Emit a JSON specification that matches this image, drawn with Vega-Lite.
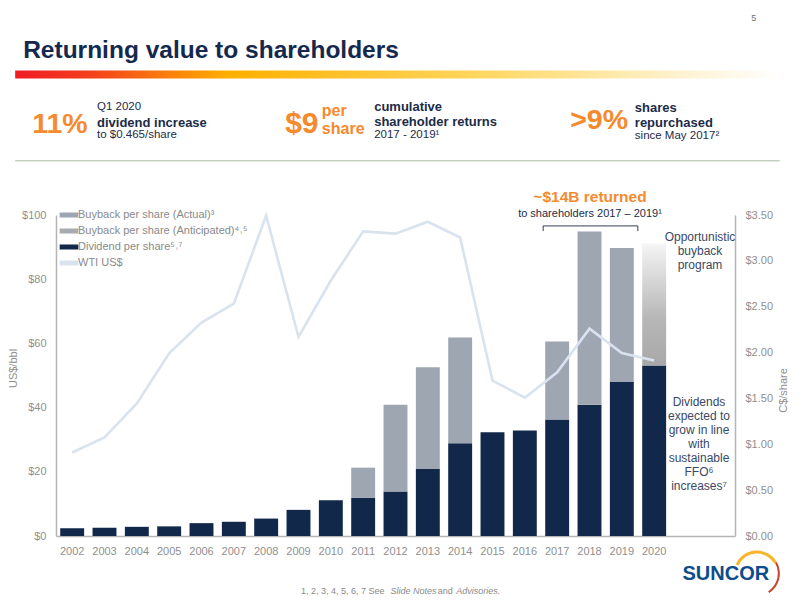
{"$schema":"https://vega.github.io/schema/vega-lite/v6.json","width":679,"height":321,"autosize":"none","padding":{"left":56,"top":215,"right":65,"bottom":64},"background":"white","config":{"font":"Liberation Sans","view":{"stroke":null}},"encoding":{"x":{"field":"year","type":"nominal","scale":{"domain":["2002","2003","2004","2005","2006","2007","2008","2009","2010","2011","2012","2013","2014","2015","2016","2017","2018","2019","2020"," ","  "],"paddingInner":0.26,"paddingOuter":0.13},"axis":{"title":null,"ticks":false,"labelAngle":0,"labelPadding":9,"labelFontSize":11,"labelColor":"#8f8f8f","domainColor":"#b5b5b5","domainWidth":1.5,"labelOverlap":false,"grid":false}}},"resolve":{"scale":{"y":"independent"}},"layer":[{"data":{"values":[{"year":"2002","series":"Dividend per share⁵˒⁷","value":0.085},{"year":"2003","series":"Dividend per share⁵˒⁷","value":0.09},{"year":"2004","series":"Dividend per share⁵˒⁷","value":0.1},{"year":"2005","series":"Dividend per share⁵˒⁷","value":0.105},{"year":"2006","series":"Dividend per share⁵˒⁷","value":0.14},{"year":"2007","series":"Dividend per share⁵˒⁷","value":0.155},{"year":"2008","series":"Dividend per share⁵˒⁷","value":0.19},{"year":"2009","series":"Dividend per share⁵˒⁷","value":0.285},{"year":"2010","series":"Dividend per share⁵˒⁷","value":0.39},{"year":"2011","series":"Dividend per share⁵˒⁷","value":0.415},{"year":"2012","series":"Dividend per share⁵˒⁷","value":0.485},{"year":"2013","series":"Dividend per share⁵˒⁷","value":0.73},{"year":"2014","series":"Dividend per share⁵˒⁷","value":1.01},{"year":"2015","series":"Dividend per share⁵˒⁷","value":1.13},{"year":"2016","series":"Dividend per share⁵˒⁷","value":1.15},{"year":"2017","series":"Dividend per share⁵˒⁷","value":1.27},{"year":"2018","series":"Dividend per share⁵˒⁷","value":1.43},{"year":"2019","series":"Dividend per share⁵˒⁷","value":1.68},{"year":"2020","series":"Dividend per share⁵˒⁷","value":1.86},{"year":"2011","series":"Buyback per share (Actual)³","value":0.33},{"year":"2012","series":"Buyback per share (Actual)³","value":0.945},{"year":"2013","series":"Buyback per share (Actual)³","value":1.11},{"year":"2014","series":"Buyback per share (Actual)³","value":1.155},{"year":"2017","series":"Buyback per share (Actual)³","value":0.85},{"year":"2018","series":"Buyback per share (Actual)³","value":1.89},{"year":"2019","series":"Buyback per share (Actual)³","value":1.46},{"year":"2020","series":"Buyback per share (Anticipated)⁴˒⁵","value":1.33}]},"transform":[{"stack":"value","groupby":["year"],"sort":[{"field":"series","order":"descending"}],"as":["share0","share1"]}],"encoding":{"y":{"field":"share0","type":"quantitative","scale":{"domain":[0,3.5],"nice":false,"zero":true},"axis":{"orient":"right","title":"C$/share","titleAngle":270,"titleX":53,"titleY":175,"titleFontSize":11,"titleFontWeight":"normal","titleColor":"#8f8f8f","values":[0,0.5,1,1.5,2,2.5,3,3.5],"format":"$.2f","ticks":false,"grid":false,"labelPadding":10,"labelFontSize":11,"labelColor":"#8f8f8f","domainColor":"#b5b5b5","domainWidth":1.5}},"y2":{"field":"share1"}},"layer":[{"transform":[{"filter":"indexof(datum.series,'Anticipated')<0"}],"mark":{"type":"bar"},"encoding":{"color":{"field":"series","type":"nominal","scale":{"domain":["Buyback per share (Actual)³","Buyback per share (Anticipated)⁴˒⁵","Dividend per share⁵˒⁷","WTI US$"],"range":["#9ea6b2","#a8abb0","#11284a","#d9e3ef"]},"legend":{"title":null,"orient":"none","legendX":1,"legendY":-6,"symbolType":"stroke","symbolStrokeWidth":5,"symbolSize":350,"clipHeight":12,"labelFontSize":11,"labelColor":"#8a8a8a","rowPadding":4,"labelOffset":-3,"labelLimit":300}}}},{"transform":[{"filter":"indexof(datum.series,'Anticipated')>=0"}],"mark":{"type":"bar","color":{"gradient":"linear","x1":0,"y1":0,"x2":0,"y2":1,"stops":[{"offset":0,"color":"#f5f5f5"},{"offset":0.6,"color":"#b8b8b8"},{"offset":1,"color":"#a8a8a8"}]}}}]},{"encoding":{"y":{"field":"usd","type":"quantitative","scale":{"domain":[0,100],"nice":false,"zero":true},"axis":{"orient":"left","title":"US$/bbl","titleX":-38,"titleY":153,"titleFontSize":11,"titleFontWeight":"normal","titleColor":"#8f8f8f","values":[0,20,40,60,80,100],"format":"$.0f","ticks":false,"grid":false,"labelPadding":10,"labelFontSize":11,"labelColor":"#8f8f8f","domainColor":"#b5b5b5","domainWidth":1.5}}},"layer":[{"data":{"values":[{"year":"2002","usd":26,"series":"WTI US$"},{"year":"2003","usd":30.7,"series":"WTI US$"},{"year":"2004","usd":41.3,"series":"WTI US$"},{"year":"2005","usd":56.9,"series":"WTI US$"},{"year":"2006","usd":66.5,"series":"WTI US$"},{"year":"2007","usd":72.4,"series":"WTI US$"},{"year":"2008","usd":99.8,"series":"WTI US$"},{"year":"2009","usd":62,"series":"WTI US$"},{"year":"2010","usd":79.6,"series":"WTI US$"},{"year":"2011","usd":94.9,"series":"WTI US$"},{"year":"2012","usd":94.2,"series":"WTI US$"},{"year":"2013","usd":97.9,"series":"WTI US$"},{"year":"2014","usd":93,"series":"WTI US$"},{"year":"2015","usd":48.4,"series":"WTI US$"},{"year":"2016","usd":43.1,"series":"WTI US$"},{"year":"2017","usd":51,"series":"WTI US$"},{"year":"2018","usd":64.6,"series":"WTI US$"},{"year":"2019","usd":57,"series":"WTI US$"},{"year":"2020","usd":54.7,"series":"WTI US$"}]},"mark":{"type":"line","strokeWidth":2.6},"encoding":{"color":{"field":"series","type":"nominal"}}},{"data":{"values":[{"year":"2002","usd":151.2,"label":"Returning value to shareholders"}]},"mark":{"type":"text","align":"left","dx":-49,"fontSize":24.5,"fontWeight":"bold","color":"#14294d"},"encoding":{"text":{"field":"label"}}},{"data":{"values":[{"year":"2002","year2":"  ","usd":145,"usd2":142.5}]},"mark":{"type":"rect","xOffset":-57,"x2Offset":61,"fill":{"gradient":"linear","x1":0,"y1":0,"x2":1,"y2":0,"stops":[{"offset":0,"color":"#ee1c25"},{"offset":0.1,"color":"#f4401c"},{"offset":0.28,"color":"#ffb000"},{"offset":0.6,"color":"#ffd65c"},{"offset":0.85,"color":"#fff0c8"},{"offset":1,"color":"#ffffff"}]}},"encoding":{"x2":{"field":"year2"},"y2":{"field":"usd2"}}},{"data":{"values":[{"year":"2002","year2":"  ","usd":116.9}]},"mark":{"type":"rule","stroke":"#c6d0c2","strokeWidth":1.5,"xOffset":-57,"x2Offset":61},"encoding":{"x2":{"field":"year2"}}},{"data":{"values":[{"year":"2017","year2":"2019","usd":96.6}]},"mark":{"type":"rule","stroke":"#333f55","strokeWidth":1,"xOffset":-14,"x2Offset":16},"encoding":{"x2":{"field":"year2"}}},{"data":{"values":[{"year":"2017","usd":96.6,"usd2":95}]},"mark":{"type":"rule","stroke":"#333f55","strokeWidth":1,"xOffset":-14},"encoding":{"y2":{"field":"usd2"}}},{"data":{"values":[{"year":"2019","usd":96.6,"usd2":95}]},"mark":{"type":"rule","stroke":"#333f55","strokeWidth":1,"xOffset":16},"encoding":{"y2":{"field":"usd2"}}},{"data":{"values":[{"year":"  ","usd":161.5,"label":"5"}]},"mark":{"type":"text","dx":35,"fontSize":9,"color":"#6f6f6f"},"encoding":{"text":{"field":"label"}}},{"data":{"values":[{"year":"2002","usd":128.5,"label":"11%"}]},"mark":{"type":"text","align":"left","dx":-40,"fontSize":28.5,"fontWeight":"bold","color":"#f58a2f"},"encoding":{"text":{"field":"label"}}},{"data":{"values":[{"year":"2008","usd":128.5,"label":"$9"}]},"mark":{"type":"text","align":"left","dx":19,"fontSize":30,"fontWeight":"bold","color":"#f58a2f"},"encoding":{"text":{"field":"label"}}},{"data":{"values":[{"year":"2017","usd":129.5,"label":">9%"}]},"mark":{"type":"text","align":"left","dx":13,"fontSize":28.5,"fontWeight":"bold","color":"#f58a2f"},"encoding":{"text":{"field":"label"}}},{"data":{"values":[{"year":"2010","usd":132.3,"label":"per"},{"year":"2010","usd":126.7,"label":"share"}]},"mark":{"type":"text","align":"left","dx":-9,"fontSize":16,"fontWeight":"bold","color":"#f58a2f"},"encoding":{"text":{"field":"label"}}},{"data":{"values":[{"year":"2003","usd":133.5,"label":"Q1 2020"},{"year":"2003","usd":124.8,"label":"to $0.465/share"}]},"mark":{"type":"text","align":"left","dx":-7.5,"fontSize":11.5,"color":"#1c2b47"},"encoding":{"text":{"field":"label"}}},{"data":{"values":[{"year":"2003","usd":128.8,"label":"dividend increase"}]},"mark":{"type":"text","align":"left","dx":-7.5,"fontSize":13,"fontWeight":"bold","color":"#1c2b47"},"encoding":{"text":{"field":"label"}}},{"data":{"values":[{"year":"2011","usd":133.5,"label":"cumulative\nshareholder returns"}]},"mark":{"type":"text","align":"left","dx":11,"fontSize":13,"fontWeight":"bold","color":"#1c2b47","lineBreak":"\n","lineHeight":15},"encoding":{"text":{"field":"label"}}},{"data":{"values":[{"year":"2011","usd":124.8,"label":"2017 - 2019¹"}]},"mark":{"type":"text","align":"left","dx":11,"fontSize":11.5,"color":"#1c2b47"},"encoding":{"text":{"field":"label"}}},{"data":{"values":[{"year":"2019","usd":133.2,"label":"shares\nrepurchased"}]},"mark":{"type":"text","align":"left","dx":13,"fontSize":13,"fontWeight":"bold","color":"#1c2b47","lineBreak":"\n","lineHeight":15},"encoding":{"text":{"field":"label"}}},{"data":{"values":[{"year":"2019","usd":124.5,"label":"since May 2017²"}]},"mark":{"type":"text","align":"left","dx":13,"fontSize":11.5,"color":"#1c2b47"},"encoding":{"text":{"field":"label"}}},{"data":{"values":[{"year":"2018","usd":105.5,"label":"~$14B returned"}]},"mark":{"type":"text","dx":0.5,"fontSize":15.5,"fontWeight":"bold","color":"#f58a2f"},"encoding":{"text":{"field":"label"}}},{"data":{"values":[{"year":"2018","usd":100.4,"label":"to shareholders 2017 – 2019¹"}]},"mark":{"type":"text","dx":0.5,"fontSize":11,"color":"#1c2b47"},"encoding":{"text":{"field":"label"}}},{"data":{"values":[{"year":" ","usd":93.3,"label":"Opportunistic\nbuyback\nprogram"}]},"mark":{"type":"text","dx":13.5,"fontSize":12,"color":"#3a4866","lineBreak":"\n","lineHeight":14},"encoding":{"text":{"field":"label"}}},{"data":{"values":[{"year":" ","usd":41.6,"label":"Dividends\nexpected to\ngrow in line\nwith\nsustainable\nFFO⁶\nincreases⁷"}]},"mark":{"type":"text","dx":12.5,"fontSize":12,"color":"#3a4866","lineBreak":"\n","lineHeight":14},"encoding":{"text":{"field":"label"}}},{"data":{"values":[{"year":"2009","usd":-17.2,"label":"1, 2, 3, 4, 5, 6, 7  See"}]},"mark":{"type":"text","align":"left","dx":2.5,"fontSize":9,"color":"#8a8a8a"},"encoding":{"text":{"field":"label"}}},{"data":{"values":[{"year":"2012","usd":-17.2,"label":"Slide Notes"}]},"mark":{"type":"text","align":"left","dx":-5,"fontSize":9,"fontStyle":"italic","color":"#8a8a8a"},"encoding":{"text":{"field":"label"}}},{"data":{"values":[{"year":"2013","usd":-17.2,"label":"and"}]},"mark":{"type":"text","align":"left","dx":10,"fontSize":9,"color":"#8a8a8a"},"encoding":{"text":{"field":"label"}}},{"data":{"values":[{"year":"2014","usd":-17.2,"label":"Advisories."}]},"mark":{"type":"text","align":"left","dx":-4,"fontSize":9,"fontStyle":"italic","color":"#8a8a8a"},"encoding":{"text":{"field":"label"}}},{"data":{"values":[{"year":"  ","usd":-11.7,"label":"SUNCOR"}]},"mark":{"type":"text","dx":7,"fontSize":20,"fontWeight":"bold","color":"#0d4c8c"},"encoding":{"text":{"field":"label"}}},{"data":{"values":[{"year":"  ","usd":-11.7}]},"mark":{"type":"arc","xOffset":38,"radius":23,"radius2":20,"theta":-1.15,"theta2":1.05,"color":"#f7b52c"}},{"data":{"values":[{"year":"  ","usd":-11.7}]},"mark":{"type":"arc","xOffset":38,"radius":23,"radius2":21,"theta":1.05,"theta2":2.57,"color":"#c8432b"}}]}]}
